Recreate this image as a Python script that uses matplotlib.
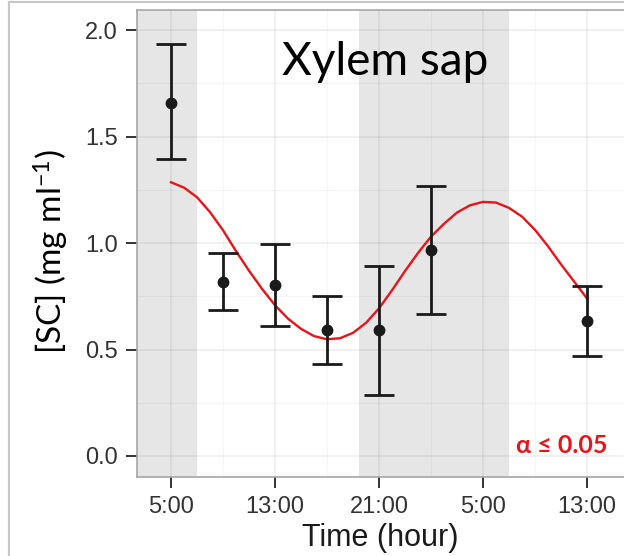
import numpy as np
import matplotlib.pyplot as plt
from matplotlib.patches import Rectangle

# --- DATA ---
times = [5, 9, 13, 17, 21, 25, 37]
means = [1.657, 0.818, 0.803, 0.592, 0.592, 0.967, 0.632]
upper = [1.934, 0.954, 0.995, 0.751, 0.893, 1.266, 0.796]
lower = [1.394, 0.685, 0.612, 0.432, 0.286, 0.666, 0.469]

fit_hours = list(range(5, 38))
fit_vals = [1.285, 1.26, 1.215, 1.145, 1.06, 0.962, 0.87, 0.785, 0.708, 0.645,
            0.597, 0.563, 0.548, 0.553, 0.578, 0.625, 0.693, 0.778, 0.868, 0.953,
            1.03, 1.09, 1.143, 1.177, 1.193, 1.19, 1.165, 1.124, 1.062, 0.985,
            0.9, 0.82, 0.74]

night_bands = [(2.0, 7.0), (19.5, 31.0)]
tick_hours = [5, 13, 21, 29, 37]
tick_labels = ["5:00", "13:00", "21:00", "5:00", "13:00"]

# --- FONTS ---
plt.rcParams['font.family'] = ['Liberation Sans', 'DejaVu Sans']
plt.rcParams['mathtext.fontset'] = 'custom'
plt.rcParams['mathtext.rm'] = 'Lato'
plt.rcParams['mathtext.it'] = 'Lato:italic'
note_font = ['Lato', 'DejaVu Sans']

W, H = 624, 556
fig = plt.figure(figsize=(W / 100, H / 100), dpi=100)
ax = fig.add_axes([137 / W, 1 - 477 / H, (624 - 137) / W, (477 - 10) / H])

for a, b in night_bands:
    ax.axvspan(a, b, color='#e6e6e6', lw=0, zorder=0)

ax.set_xticks(tick_hours)
ax.set_xticklabels(tick_labels)
ax.set_yticks([0.0, 0.5, 1.0, 1.5, 2.0])
ax.set_yticklabels(["0.0", "0.5", "1.0", "1.5", "2.0"])
ax.set_xticks([9, 17, 25, 33], minor=True)
ax.set_yticks([0.25, 0.75, 1.25, 1.75], minor=True)

ax.set_axisbelow(True)
ax.grid(True, which='major', color='black', alpha=0.07, lw=1.1)
ax.grid(True, which='minor', color='black', alpha=0.035, lw=0.9)

ax.tick_params(which='major', length=8, width=1.4, color='#333333',
               labelsize=17, labelcolor='#333333', pad=6)
ax.tick_params(which='minor', length=0)

for s in ['left', 'bottom', 'top']:
    ax.spines[s].set_color('#a6a6a6')
    ax.spines[s].set_linewidth(1.2)
ax.spines['right'].set_visible(False)

# cosinor fit
ax.plot(fit_hours, fit_vals, color='#e8141c', lw=1.7, zorder=3)

# means with error bars
yerr = [np.array(means) - np.array(lower), np.array(upper) - np.array(means)]
ax.errorbar(times, means, yerr=yerr, fmt='o', color='#1a1a1a', ms=7.5,
            elinewidth=2, capsize=10.8, capthick=2, zorder=4)

# limits last, so the tick setters cannot widen them
ax.set_xlim(2.385, 39.85)
ax.set_ylim(-0.0986, 2.094)

ax.set_xlabel("Time (hour)", fontsize=22, color='#1a1a1a', labelpad=3)

fig.text(51 / W, 1 - 252 / H, r"[SC] (mg ml$^{\mathregular{-1}}$)", rotation=90,
         ha='center', va='center', fontsize=24, family=note_font)
fig.text(385 / W, 1 - 75 / H, "Xylem sap", ha='center', va='baseline',
         fontsize=33, family=note_font)
fig.text(607 / W, 1 - 453 / H, "α ≤ 0.05", ha='right', va='baseline',
         fontsize=18, fontweight='bold', color='#e8141c', family=note_font)

# outer slide box
fig.add_artist(Rectangle((9 / W, -0.1), 2, 1.1 - 2 / H, transform=fig.transFigure,
                         fill=False, edgecolor='#c8c8c8', lw=1.5))

fig.savefig("out.png", dpi=100)
